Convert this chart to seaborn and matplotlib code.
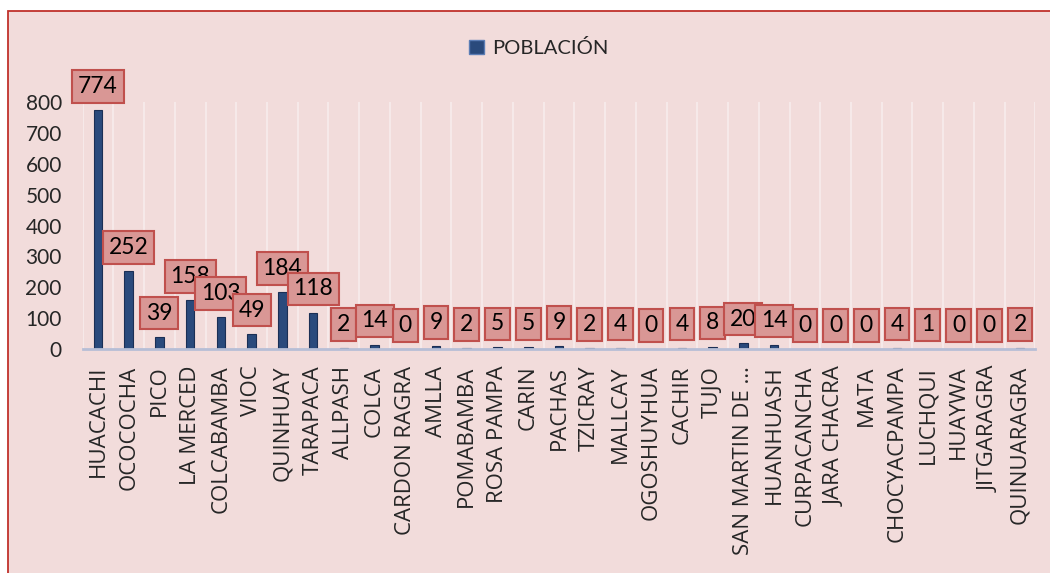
import pandas as pd
import seaborn as sns
import matplotlib.pyplot as plt
from matplotlib.patches import Patch, Rectangle
from matplotlib.ticker import FixedLocator

# Datos de la gráfica
lugares = ["HUACACHI", "OCOCOCHA", "PICO", "LA MERCED", "COLCABAMBA", "VIOC",
           "QUINHUAY", "TARAPACA", "ALLPASH", "COLCA", "CARDON RAGRA", "AMLLA",
           "POMABAMBA", "ROSA PAMPA", "CARIN", "PACHAS", "TZICRAY", "MALLCAY",
           "OGOSHUYHUA", "CACHIR", "TUJO", "SAN MARTIN DE …", "HUANHUASH",
           "CURPACANCHA", "JARA CHACRA", "MATA", "CHOCYACPAMPA", "LUCHQUI",
           "HUAYWA", "JITGARAGRA", "QUINUARAGRA"]
poblacion = [774, 252, 39, 158, 103, 49, 184, 118, 2, 14, 0, 9, 2, 5, 5, 9,
             2, 4, 0, 4, 8, 20, 14, 0, 0, 0, 4, 1, 0, 0, 2]
serie = "POBLACIÓN"
marcas_y = [0, 100, 200, 300, 400, 500, 600, 700, 800]

fondo = "#F2DCDB"
azul = "#2A4A7C"

df = pd.DataFrame({"lugar": lugares, "poblacion": poblacion})

sns.set_theme(style="white")
plt.rcParams["font.family"] = ["Lato", "DejaVu Sans"]

fig = plt.figure(figsize=(10.5, 5.73), dpi=100)
fig.patch.set_facecolor("white")
# marco rojo del área del gráfico
fig.patches.append(Rectangle((8 / 1050, -0.05), 1.1, 1 - 11 / 573 + 0.05,
                             transform=fig.transFigure, facecolor=fondo,
                             edgecolor="#C0312B", linewidth=1.3, zorder=-10))

ax = fig.add_axes([82.6 / 1050, 1 - 349 / 573, (1035.4 - 82.6) / 1050, (349 - 102) / 573])
ax.set_facecolor(fondo)

sns.barplot(data=df, x="lugar", y="poblacion", color=azul, width=0.28,
            edgecolor="#1B2F55", linewidth=0.8, saturation=1, ax=ax)

ax.set_ylim(0, 800)
ax.set_xlim(-0.5, len(lugares) - 0.5)
ax.set_yticks(marcas_y)
ax.set_xticks(range(len(lugares)))
ax.set_xticklabels(lugares, rotation=90, fontfamily=["Open Sans", "DejaVu Sans"],
                   fontsize=16, va="top", ha="center")
ax.set_xlabel("")
ax.set_ylabel("")

# líneas verticales entre categorías
ax.xaxis.set_minor_locator(FixedLocator([i + 0.5 for i in range(-1, len(lugares))]))
ax.grid(which="minor", axis="x", color="#F8ECEC", linewidth=1.2)
ax.set_axisbelow(True)

for s in ["top", "right", "left"]:
    ax.spines[s].set_visible(False)
ax.spines["bottom"].set_color("#B7BED6")
ax.spines["bottom"].set_linewidth(2)

ax.tick_params(axis="both", which="both", length=0)
ax.tick_params(axis="y", labelsize=15, pad=15)
ax.tick_params(axis="x", pad=12)

# etiquetas de datos con caja
for i, v in enumerate(poblacion):
    ax.annotate(str(v), xy=(i, v), xytext=(0, 9.5), textcoords="offset points",
                ha="center", va="bottom", fontsize=16.5, color="black",
                annotation_clip=False, zorder=5 + i,
                bbox=dict(boxstyle="square,pad=0.25", facecolor="#D99795",
                          edgecolor="#C0504D", linewidth=1.5))

fig.legend(handles=[Patch(facecolor=azul, edgecolor="#5B7DB5", label=serie)],
           loc="center", bbox_to_anchor=(539 / 1050, 1 - 48 / 573), frameon=False,
           fontsize=14.5, handlelength=0.75, handleheight=0.75, handletextpad=0.4)

fig.savefig("out.png", dpi=100, facecolor=fig.get_facecolor())
plt.close()
